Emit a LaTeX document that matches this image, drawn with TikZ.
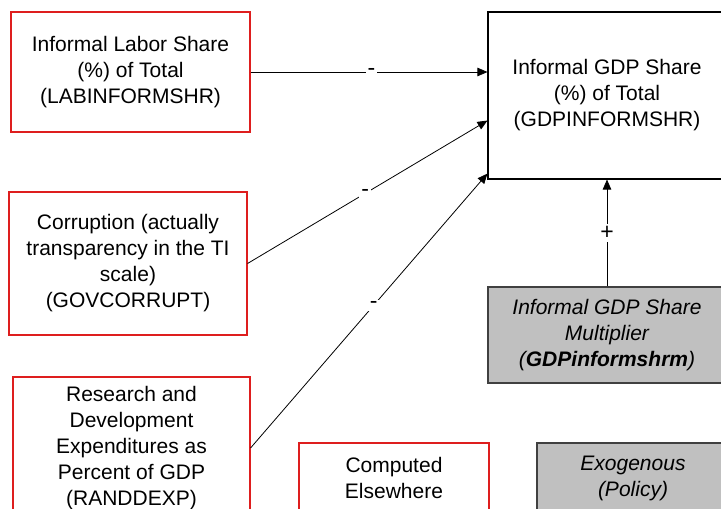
\documentclass[tikz,border=0pt]{standalone}
\usepackage{fontspec}
\setmainfont{Liberation Sans}
\usetikzlibrary{arrows.meta,positioning}
\definecolor{boxred}{RGB}{222,30,30}
\definecolor{boxgray}{RGB}{192,192,192}
\tikzset{
  lbl/.style={font=\fontsize{21}{26}\selectfont, align=center},
  redbox/.style={lbl, draw=boxred, line width=1.1pt, fill=white, inner sep=0pt},
  blackbox/.style={lbl, draw=black, line width=1.1pt, fill=white, inner sep=0pt},
  graybox/.style={lbl, draw=black!75, line width=1.1pt, fill=boxgray, inner sep=0pt},
  link/.style={draw=black, line width=0.8pt, -{Triangle[length=10pt,width=8.5pt]}},
  sign/.style={font=\fontsize{23}{26}\selectfont, fill=white, inner sep=2pt}
}
\begin{document}
\begin{tikzpicture}[x=1pt,y=-1pt]
\useasboundingbox (0,0) rectangle (721,509);
\clip (0,0) rectangle (721,509);
\fill[white] (0,0) rectangle (721,509);

% input variables (red outline)
\node[redbox, minimum width=239pt, minimum height=120pt] (labor) at (130.5,72)
  {Informal Labor Share\\(\%) of Total\\(LABINFORMSHR)};
\node[redbox, minimum width=238pt, minimum height=143pt] (corrupt) at (128,263.5)
  {Corruption (actually\\transparency in the TI\\scale)\\(GOVCORRUPT)};
\node[redbox, minimum width=237pt, minimum height=142pt] (rnd) at (131.5,448)
  {Research and\\Development\\Expenditures as\\Percent of GDP\\(RANDDEXP)};

% target variable
\node[blackbox, minimum width=238pt, minimum height=167pt] (gdp) at (607,95.5)
  {Informal GDP Share\\(\%) of Total\\(GDPINFORMSHR)};

% policy multiplier
\node[graybox, minimum width=238pt, minimum height=96pt] (mult) at (607,335)
  {\itshape Informal GDP Share\\\itshape Multiplier\\\itshape(\textbf{GDPinformshrm})};

% legend boxes
\node[redbox, minimum width=190pt, minimum height=70pt] (comp) at (394,478)
  {Computed\\Elsewhere};
\node[graybox, minimum width=192pt, minimum height=70pt] (exo) at (633,478)
  {\itshape Exogenous\\\itshape(Policy)};

% causal links
\draw[link] (labor.east) -- ([yshift=23.5pt]gdp.west) node[sign, pos=0.51] {-};
\draw[link] (corrupt.east) -- ([yshift=59pt]gdp.south west) node[sign, pos=0.49] {-};
\draw[link] (rnd.east) -- ([yshift=6pt]gdp.south west) node[sign, pos=0.52] {-};
\draw[link] (mult.north) -- (gdp.south) node[sign, midway] {+};
\end{tikzpicture}
\end{document}
